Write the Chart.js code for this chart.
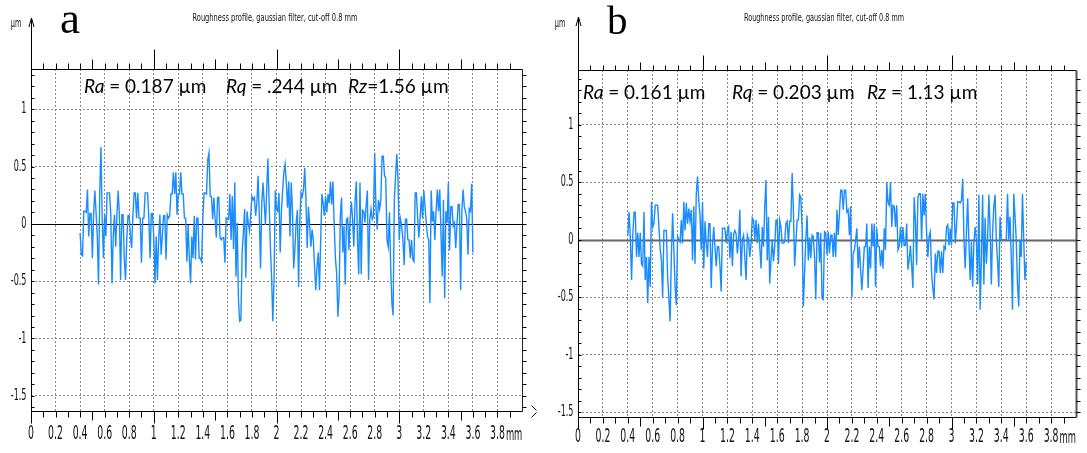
<!DOCTYPE html>
<html>
<head>
<meta charset="utf-8">
<script src="https://cdn.jsdelivr.net/npm/chart.js@4.4.1/dist/chart.umd.min.js"></script>
<style>
  body { margin: 0; background: #fff; }
  .panel { position: absolute; top: 0; height: 453px; }
  #panelA { left: 0; width: 543px; }
  #panelB { left: 545px; width: 542px; }
</style>
</head>
<body>
<div class="panel" id="panelA"><canvas id="chartA" width="543" height="453"></canvas></div>
<div class="panel" id="panelB"><canvas id="chartB" width="542" height="453"></canvas></div>
<script>
// sampling of the profile (mm)
const profileStart = 0.40;
const profileStep = 0.01;

// roughness profile a (um)
const profileA = [
  -0.08,-0.27,-0.28,0.11,0.11,0.10,0.30,-0.11,0.09,0.09,
  -0.30,0.09,0.29,0.10,-0.11,-0.53,0.27,0.67,0.05,-0.30,
  0.08,-0.11,0.27,0.27,0.27,0.08,-0.52,-0.11,0.08,-0.20,
  0.08,0.29,0.08,-0.49,0.08,0.08,-0.31,-0.49,-0.14,0.07,
  0.07,-0.11,-0.21,0.07,0.27,0.27,0.05,0.27,0.05,0.05,
  -0.34,0.05,0.05,0.27,0.27,0.27,0.05,-0.30,0.09,0.09,
  -0.11,-0.52,-0.11,-0.49,-0.14,0.08,-0.27,-0.11,0.07,0.07,
  -0.31,0.08,0.05,0.07,0.26,0.26,0.45,0.26,0.45,0.08,
  0.26,0.26,0.45,0.26,0.26,0.05,0.05,-0.33,-0.01,-0.30,
  -0.52,-0.11,-0.30,0.07,-0.31,0.05,0.05,-0.30,-0.30,-0.33,
  0.05,0.27,0.27,0.26,0.56,0.62,0.24,0.24,0.04,0.23,
  0.04,-0.12,0.23,0.23,-0.12,-0.14,-0.12,-0.12,-0.34,0.05,
  0.04,0.04,0.26,-0.14,0.24,-0.22,0.36,-0.46,0.01,-0.66,
  -0.85,-0.84,-0.25,-0.08,0.13,-0.47,0.11,0.01,-0.06,0.07,
  0.24,0.21,0.23,0.07,0.18,0.42,0.07,-0.39,0.18,0.36,
  0.18,-0.01,0.29,0.57,0.18,-0.20,-0.46,-0.85,-0.49,0.29,
  0.13,0.11,0.27,-0.25,0.11,0.29,0.45,0.52,0.36,0.14,
  0.37,-0.11,0.36,0.12,-0.39,-0.22,0.01,0.12,-0.55,0.04,
  0.27,0.24,0.30,0.49,0.21,-0.21,0.15,-0.01,-0.20,-0.05,
  -0.14,-0.37,-0.58,-0.37,-0.25,-0.58,-0.14,0.26,0.18,0.07,
  0.24,0.10,0.26,0.18,0.37,0.17,0.37,-0.01,-0.30,-0.43,
  -0.81,-0.62,0.07,0.23,-0.25,-0.02,-0.53,0.04,0.05,-0.23,
  0.04,0.19,0.04,-0.20,0.20,0.37,-0.14,-0.44,0.36,-0.44,
  0.12,0.11,0.01,0.16,0.29,-0.49,0.04,0.13,0.04,0.07,
  0.62,0.15,-0.05,0.21,0.13,0.21,0.59,0.59,0.42,0.40,
  -0.14,-0.20,0.10,-0.37,-0.69,-0.80,0.21,0.42,0.61,0.39,
  -0.14,0.04,-0.02,-0.14,-0.36,0.04,0.04,-0.14,-0.14,-0.30,
  -0.14,-0.31,-0.33,0.27,0.27,0.05,-0.12,0.05,0.24,0.05,
  0.29,0.15,0.01,-0.11,-0.14,-0.69,0.29,0.02,0.11,-0.14,
  0.11,0.30,0.11,0.30,-0.09,-0.46,0.21,-0.65,0.11,0.01,
  0.36,-0.23,0.15,0.15,-0.02,0.01,-0.21,-0.01,0.17,0.17,
  -0.58,0.11,0.30,0.15,0.11,0.04,-0.27,0.13,0.11,0.35,-0.25
];

// roughness profile b (um)
const profileB = [
  0.03,0.24,0.03,-0.35,0.03,0.24,0.24,-0.15,0.06,-0.15,
  0.06,-0.21,-0.23,0.24,-0.35,-0.15,-0.55,-0.15,-0.41,0.33,
  0.11,0.14,0.30,0.30,0.30,0.11,-0.08,-0.18,-0.50,0.08,
  0.08,0.08,-0.32,-0.51,-0.71,-0.13,0.23,-0.09,-0.41,-0.57,
  0.03,0.00,-0.02,0.17,-0.03,0.33,0.08,0.32,0.14,0.27,
  0.16,0.26,-0.18,0.29,-0.21,0.40,0.55,0.34,0.21,-0.09,
  0.33,-0.25,0.16,-0.03,-0.15,0.14,0.14,-0.42,-0.06,0.11,
  -0.06,-0.23,-0.06,-0.06,-0.22,-0.45,0.10,0.10,0.10,-0.03,
  0.08,0.11,-0.16,0.07,-0.23,0.05,0.08,0.05,-0.12,0.00,
  0.26,-0.32,0.00,0.04,-0.15,-0.35,0.04,0.00,-0.15,-0.03,
  0.19,0.17,0.00,0.17,-0.03,0.14,-0.06,-0.25,0.11,-0.06,
  0.29,0.52,-0.18,0.20,-0.38,-0.18,0.00,-0.19,-0.06,0.17,
  0.17,-0.21,0.17,0.11,-0.03,-0.03,-0.02,0.14,0.16,-0.03,
  0.16,0.16,0.58,0.26,-0.23,-0.03,0.17,0.17,0.39,0.37,
  0.11,-0.58,-0.29,0.01,0.21,-0.18,0.02,-0.16,0.04,0.03,
  -0.15,-0.52,0.06,0.06,-0.20,0.06,-0.51,-0.52,0.07,0.06,
  -0.13,0.07,-0.12,0.04,0.04,-0.15,0.06,-0.15,0.26,0.04,
  0.23,0.43,0.43,0.26,0.43,0.43,0.24,0.26,0.04,0.29,
  -0.50,-0.12,-0.09,0.00,0.10,-0.25,-0.06,-0.26,-0.44,-0.25,
  -0.06,-0.06,0.14,-0.42,-0.06,-0.25,0.14,-0.06,0.14,-0.41,
  0.10,-0.06,-0.06,-0.23,-0.09,-0.25,0.10,-0.09,0.50,0.32,
  0.30,0.50,0.11,0.30,0.29,0.11,0.30,-0.09,-0.06,0.11,
  -0.06,0.11,-0.05,-0.05,0.14,-0.26,-0.18,-0.05,-0.23,-0.42,
  0.37,0.17,-0.22,0.37,0.40,0.40,0.00,0.40,0.21,0.40,
  0.06,-0.15,0.03,0.07,-0.29,-0.42,-0.52,-0.12,-0.29,-0.10,
  -0.10,-0.29,-0.10,-0.29,-0.06,-0.08,0.11,0.13,-0.05,0.10,
  -0.05,0.32,0.32,-0.03,0.11,0.33,0.33,0.32,0.34,0.53,
  0.01,-0.25,0.06,0.36,-0.03,-0.35,-0.02,-0.41,-0.02,0.11,
  0.00,-0.39,0.39,-0.61,-0.18,0.39,-0.39,0.19,-0.21,0.00,
  0.39,0.10,-0.39,0.06,0.29,0.39,0.00,-0.19,-0.41,0.20,
  0.00,0.00,0.00,0.00,0.00,0.40,0.00,0.20,-0.15,-0.61,
  0.40,0.21,0.00,-0.39,-0.58,0.00,-0.15,0.40,0.00,-0.35,-0.19
];

const xTicks = [0,0.2,0.4,0.6,0.8,1,1.2,1.4,1.6,1.8,2,2.2,2.4,2.6,2.8,3,3.2,3.4,3.6,3.8];
const xTickLabels = ['0','0.2','0.4','0.6','0.8','1','1.2','1.4','1.6','1.8','2','2.2','2.4','2.6','2.8','3','3.2','3.4','3.6','3.8'];
const yTicks = [1, 0.5, 0, -0.5, -1, -1.5];
const yTickLabels = ['1','0.5','0','-0.5','-1','-1.5'];
const titleText = 'Roughness profile, gaussian filter, cut-off 0.8 mm';
const paramsA = [['Ra', ' = 0.187 µm'], ['Rq', ' = .244 µm'], ['Rz', '=1.56 µm']];
const paramsB = [['Ra', ' = 0.161 µm'], ['Rq', ' = 0.203 µm'], ['Rz', ' = 1.13 µm']];

const NARROW = '"Liberation Sans Narrow", "DejaVu Sans Condensed", sans-serif';

function squish(ctx, text, x, y, size, sx, align) {
    ctx.save();
    ctx.font = size + 'px ' + NARROW;
    ctx.textBaseline = 'middle';
    ctx.textAlign = align;
    ctx.translate(x, y);
    ctx.scale(sx, 1);
    ctx.fillText(text, 0, 0);
    ctx.restore();
}

function seg(ctx, x1, y1, x2, y2) {
    ctx.beginPath();
    ctx.moveTo(x1, y1);
    ctx.lineTo(x2, y2);
    ctx.stroke();
}

function framePlugin(p) {
    return {
        id: 'frame' + p.letter,
        beforeDatasetsDraw(chart) {
            const ctx = chart.ctx, ca = chart.chartArea;
            const y0 = Math.round(chart.scales.y.getPixelForValue(0)) + 0.5;
            ctx.save();
            ctx.strokeStyle = p.zeroColor;
            ctx.lineWidth = p.zeroWidth;
            seg(ctx, ca.left, y0, ca.right, y0);
            ctx.restore();
        },
        afterDraw(chart) {
            const ctx = chart.ctx, ca = chart.chartArea;
            const xs = chart.scales.x, ys = chart.scales.y;
            const L = Math.round(ca.left) + 0.5, R = Math.round(ca.right) + 0.5;
            const T = Math.round(ca.top) + 0.5, B = Math.round(ca.bottom) + 0.5;
            ctx.save();
            ctx.strokeStyle = '#000';
            ctx.lineWidth = 1;
            seg(ctx, L, p.arrowTop, L, B);
            seg(ctx, L, T, R, T);
            seg(ctx, L, B, R, B);
            ctx.strokeStyle = p.rightColor;
            ctx.lineWidth = p.rightWidth;
            seg(ctx, R, T, R, B);
            ctx.strokeStyle = '#000';
            ctx.lineWidth = 1;
            // arrow on the y axis
            seg(ctx, L - 2.5, p.arrowTop + 9, L, p.arrowTop);
            seg(ctx, L, p.arrowTop, L + 2.5, p.arrowTop + 9);
            // mm ticks on top and bottom
            for (let k = 0; k <= 39; k++) {
                const px = Math.round(xs.getPixelForValue(k / 10)) + 0.5;
                const top = k % 10 === 0 ? p.topBig : (k % 5 === 0 ? p.topMid : p.topSmall);
                const bot = k % 10 === 0 ? 12 : (k % 5 === 0 ? 9 : 6);
                seg(ctx, px, T, px, T - top);
                seg(ctx, px, B, px, B + bot);
            }
            // um ticks on left (inside) and right (outside)
            for (let k = -16; k <= 14; k++) {
                const v = k / 10;
                if (v < ys.min || v > ys.max) continue;
                const py = Math.round(ys.getPixelForValue(v)) + 0.5;
                seg(ctx, L, py, L + 3, py);
                seg(ctx, R, py, R + 4, py);
            }
            if (p.xArrow) {
                seg(ctx, R + 9, B - 6, R + 14, B - 1);
                seg(ctx, R + 9, B + 6, R + 14, B + 1);
            }
            ctx.restore();

            ctx.save();
            ctx.fillStyle = '#111';
            xTicks.forEach((v, i) => {
                const px = xs.getPixelForValue(v);
                squish(ctx, xTickLabels[i], px, p.xLabelY, 20, 0.52, 'center');
                if (i === xTicks.length - 1) {
                    ctx.font = '20px ' + NARROW;
                    const w = ctx.measureText(xTickLabels[i]).width * 0.52;
                    squish(ctx, 'mm', px + w / 2 + 1, p.xLabelY + 2, 17, 0.55, 'left');
                }
            });
            yTicks.forEach((v, i) => {
                const py = ys.getPixelForValue(v);
                squish(ctx, yTickLabels[i], L - 5, py, 16, 0.56, 'right');
            });
            squish(ctx, 'µm', p.unitX, p.unitY, 12, 0.6, 'center');
            ctx.font = '11px ' + NARROW;
            const tw = ctx.measureText(titleText).width;
            squish(ctx, titleText, p.titleX, 18, 11, p.titleWidth / tw, 'center');
            ctx.restore();

            // panel letter
            ctx.save();
            ctx.fillStyle = '#000';
            ctx.font = p.letterSize + 'px "Liberation Serif", "Times New Roman", serif';
            ctx.textBaseline = 'alphabetic';
            ctx.fillText(p.letter, p.letterX, p.letterY);
            // roughness parameters
            p.params.forEach((pr, i) => {
                let x = p.paramX[i];
                ctx.font = 'italic 19px Lato, "Open Sans", sans-serif';
                ctx.fillText(pr[0], x, p.paramY);
                x += ctx.measureText(pr[0]).width;
                ctx.font = '19px Lato, "Open Sans", sans-serif';
                ctx.fillText(pr[1], x, p.paramY);
            });
            ctx.restore();
        }
    };
}

function makeChart(canvasId, values, p) {
    const points = values.map((v, i) => ({ x: +(profileStart + i * profileStep).toFixed(2), y: v }));
    const gridColor = c => (c.tick && c.tick.value === 0) ? 'rgba(0,0,0,0)' : '#888';
    return new Chart(document.getElementById(canvasId).getContext('2d'), {
        type: 'line',
        data: {
            datasets: [{
                data: points,
                borderColor: '#1a8cff',
                borderWidth: 1.4,
                pointRadius: 0,
                tension: 0,
                fill: false
            }]
        },
        options: {
            responsive: false,
            animation: false,
            devicePixelRatio: 1,
            layout: { padding: p.padding },
            plugins: {
                legend: { display: false },
                tooltip: { enabled: false }
            },
            scales: {
                x: {
                    type: 'linear',
                    min: 0,
                    max: 4,
                    afterBuildTicks: s => { s.ticks = xTicks.map(v => ({ value: v })); },
                    afterFit: s => { s.height = 0; },
                    ticks: { display: false },
                    grid: { color: gridColor, lineWidth: 1, drawTicks: false },
                    border: { display: false, dash: [2, 2] }
                },
                y: {
                    min: p.yMin,
                    max: p.yMax,
                    afterBuildTicks: s => { s.ticks = yTicks.map(v => ({ value: v })); },
                    afterFit: s => { s.width = 0; },
                    ticks: { display: false },
                    grid: { color: gridColor, lineWidth: 1, drawTicks: false },
                    border: { display: false, dash: [2, 2] }
                }
            }
        },
        plugins: [framePlugin(p)]
    });
}

makeChart('chartA', profileA, {
    letter: 'a', letterX: 60, letterY: 33, letterSize: 45,
    padding: { left: 31, top: 69, right: 21, bottom: 42 },
    yMin: -1.633, yMax: 1.351,
    zeroColor: '#000', zeroWidth: 1,
    rightColor: '#222', rightWidth: 1,
    arrowTop: 18, topBig: 20, topMid: 10, topSmall: 6,
    xArrow: true, xLabelY: 434,
    unitX: 16, unitY: 24,
    titleX: 275, titleWidth: 165,
    params: paramsA, paramX: [84, 226, 348], paramY: 93
});

makeChart('chartB', profileB, {
    letter: 'b', letterX: 62, letterY: 34, letterSize: 41,
    padding: { left: 33, top: 70, right: 11, bottom: 36 },
    yMin: -1.542, yMax: 1.476,
    zeroColor: '#666', zeroWidth: 2,
    rightColor: '#555', rightWidth: 2,
    arrowTop: 17, topBig: 15, topMid: 8, topSmall: 5,
    xArrow: false, xLabelY: 437,
    unitX: 15, unitY: 24,
    titleX: 279, titleWidth: 160,
    params: paramsB, paramX: [38, 187, 322], paramY: 99
});
</script>
</body>
</html>
